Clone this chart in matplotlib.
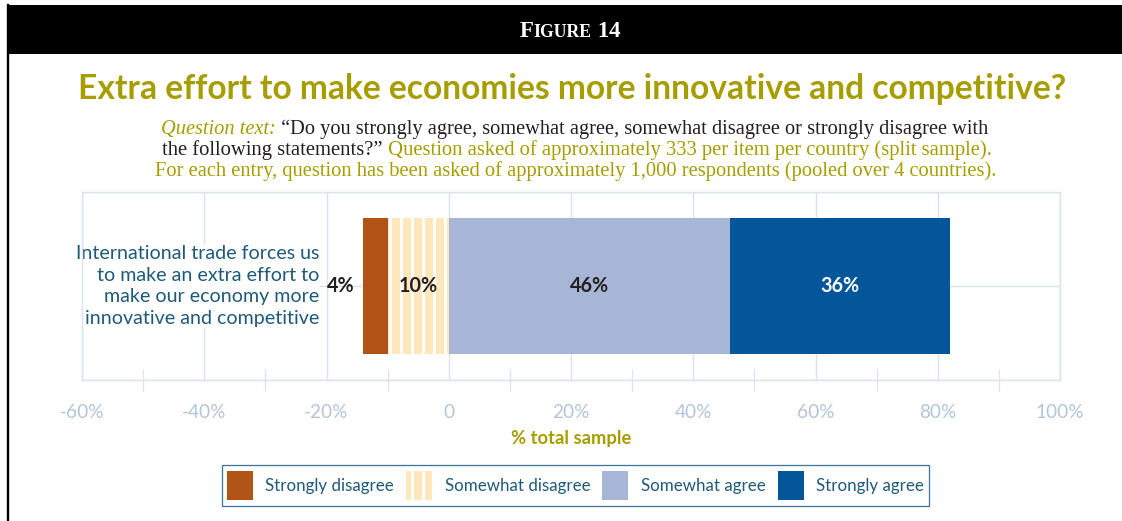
import matplotlib
matplotlib.use("Agg")
import matplotlib.pyplot as plt
from matplotlib.lines import Line2D
from matplotlib.patches import Rectangle, Patch
from matplotlib.ticker import FixedLocator
from matplotlib.transforms import Affine2D, blended_transform_factory

W, H, DPI = 1122, 521, 132

# ---- data -------------------------------------------------------------
categories = ["International trade forces us\nto make an extra effort to\n"
              "make our economy more\ninnovative and competitive"]
responses = ["Strongly disagree", "Somewhat disagree", "Somewhat agree", "Strongly agree"]
strongly_disagree = [4]
somewhat_disagree = [10]
somewhat_agree = [46]
strongly_agree = [36]
tick_values = [-60, -40, -20, 0, 20, 40, 60, 80, 100]
tick_labels = ["-60%", "-40%", "-20%", "0", "20%", "40%", "60%", "80%", "100%"]
minor_ticks = [-50, -30, -10, 10, 30, 50, 70, 90]

# ---- styling ----------------------------------------------------------
C_SD = "#B15316"
C_SWD = "#FEE8BB"
C_SWA = "#A7B6D6"
C_SA = "#035699"
OLIVE = "#A69D00"
TEAL = "#1E5A79"
GRID = "#DCE3EE"
TICK = "#B3C5D8"
DARK = "#231F20"
SANS = "Lato"
SERIF = "Liberation Serif"

plt.rcParams["hatch.color"] = "white"
plt.rcParams["hatch.linewidth"] = 1.6

fig = plt.figure(figsize=(W / DPI, H / DPI), dpi=DPI)
fig.patch.set_facecolor("white")

# pixel coordinates measured from the top-left corner
PX = Affine2D().scale(1 / W, -1 / H).translate(0, 1) + fig.transFigure

# header band and page rule
fig.patches.append(Rectangle((7, 5), W - 7, 49, transform=PX, facecolor="black",
                             edgecolor="none", zorder=0))
fig.lines.append(Line2D([8, 8], [5, H], transform=PX, color="black", lw=1.3))

renderer = fig.canvas.get_renderer()


def text_runs(runs, cx, base_y, width=None):
    """Lay out a line made of differently styled pieces, centred on cx."""
    objs = [fig.text(0, 0, s, transform=PX, ha="left", va="baseline", **kw)
            for s, kw in runs]
    widths = [t.get_window_extent(renderer).width for t in objs]
    if width is not None:
        k = width / sum(widths)
        for t in objs:
            t.set_fontsize(t.get_fontsize() * k)
        widths = [t.get_window_extent(renderer).width for t in objs]
    x = cx - sum(widths) / 2
    for t, w in zip(objs, widths):
        t.set_position((x, base_y))
        x += w
    return objs


# figure number in small capitals
head = dict(color="white", family=SERIF, weight="bold")
text_runs([("F", dict(fontsize=12.5, **head)),
           ("IGURE", dict(fontsize=9.6, **head)),
           (" 14", dict(fontsize=12.5, **head))], 570, 37)

# title
text_runs([("Extra effort to make economies more innovative and competitive?",
            dict(color=OLIVE, family=SANS, weight="bold", fontsize=15))],
          572, 99, width=988)

# question text
sub = dict(family=SERIF, fontsize=10.5)
text_runs([("Question text:", dict(color=OLIVE, style="italic", **sub)),
           (" \u201cDo you strongly agree, somewhat agree, somewhat disagree or strongly disagree with",
            dict(color=DARK, **sub))], 575, 134, width=830)
text_runs([("the following statements?\u201d", dict(color=DARK, **sub)),
           (" Question asked of approximately 333 per item per country (split sample).",
            dict(color=OLIVE, **sub))], 577, 155, width=831)
text_runs([("For each entry, question has been asked of approximately 1,000 respondents "
            "(pooled over 4 countries).", dict(color=OLIVE, **sub))], 576, 176, width=843)

# ---- chart ------------------------------------------------------------
ax = fig.add_axes([82 / W, 1 - 380 / H, (1060 - 82) / W, (380 - 192) / H])
ax.set_xlim(-60, 100)
ax.set_ylim(-0.5, 0.5)
ax.set_axisbelow(True)

y = list(range(len(categories)))
bh = 0.72
left_sd = [-(a + b) for a, b in zip(strongly_disagree, somewhat_disagree)]
left_swd = [-b for b in somewhat_disagree]

ax.barh(y, strongly_disagree, left=left_sd, height=bh, color=C_SD, lw=0, zorder=2)
ax.barh(y, somewhat_disagree, left=left_swd, height=bh, facecolor=C_SWD,
        edgecolor="white", hatch="||", lw=0, zorder=2)
ax.barh(y, somewhat_agree, left=0, height=bh, color=C_SWA, lw=0, zorder=2)
ax.barh(y, strongly_agree, left=somewhat_agree, height=bh, color=C_SA, lw=0, zorder=2)

lab = dict(family=SANS, weight="bold", fontsize=10.8, va="center", zorder=4)
for i in y:
    ax.annotate(f"{strongly_disagree[i]}%", xy=(left_sd[i], i), xytext=(-4.5, 0),
                textcoords="offset points", ha="right", color=DARK, **lab)
    ax.text(left_swd[i] + somewhat_disagree[i] / 2, i, f"{somewhat_disagree[i]}%",
            ha="center", color=DARK, **lab)
    ax.text(somewhat_agree[i] / 2, i, f"{somewhat_agree[i]}%",
            ha="center", color=DARK, **lab)
    ax.text(somewhat_agree[i] + strongly_agree[i] / 2, i, f"{strongly_agree[i]}%",
            ha="center", color="white", **lab)

# category labels
cat_tr = blended_transform_factory(PX, ax.transData)
for i, name in zip(y, categories):
    ax.text(319, i, name, transform=cat_tr, ha="right", va="center", multialignment="right",
            family=SANS, fontsize=10.7, color=TEAL, linespacing=1.32, zorder=2.2,
            bbox=dict(facecolor="white", edgecolor="none", pad=0.5))

# axes, grid and ticks
ax.set_xticks(tick_values)
ax.set_xticklabels(tick_labels, family=SANS, fontsize=10.4, color=TICK)
ax.xaxis.set_minor_locator(FixedLocator(minor_ticks))
ax.tick_params(axis="x", which="major", length=0, pad=13)
ax.tick_params(axis="x", which="minor", length=11.5, width=0.7, color=GRID, direction="inout")
ax.set_yticks([-0.5, 0, 0.5])
ax.set_yticklabels([])
ax.tick_params(axis="y", length=0)
ax.grid(True, color=GRID, lw=0.8)
for s in ax.spines.values():
    s.set_color(GRID)
    s.set_linewidth(0.8)

ax.set_xlabel("% total sample", family=SANS, weight="bold", fontsize=10, color=OLIVE,
              labelpad=5)

# legend
handles = [Patch(facecolor=C_SD, edgecolor="none", lw=0),
           Patch(facecolor=C_SWD, edgecolor="white", hatch="||", lw=0),
           Patch(facecolor=C_SWA, edgecolor="none", lw=0),
           Patch(facecolor=C_SA, edgecolor="none", lw=0)]
leg = fig.legend(handles, responses, ncol=4, loc="center",
                 bbox_to_anchor=(575.5 / W, 1 - 485.5 / H),
                 prop=dict(family=SANS, size=9.2), labelcolor=TEAL,
                 frameon=True, fancybox=False, framealpha=1, edgecolor="#3C7795",
                 handlelength=1.55, handleheight=2.35, handletextpad=0.75,
                 columnspacing=0.7, borderpad=0.3, borderaxespad=0)
leg.get_frame().set_linewidth(0.7)

fig.savefig("out.png", dpi=DPI)
